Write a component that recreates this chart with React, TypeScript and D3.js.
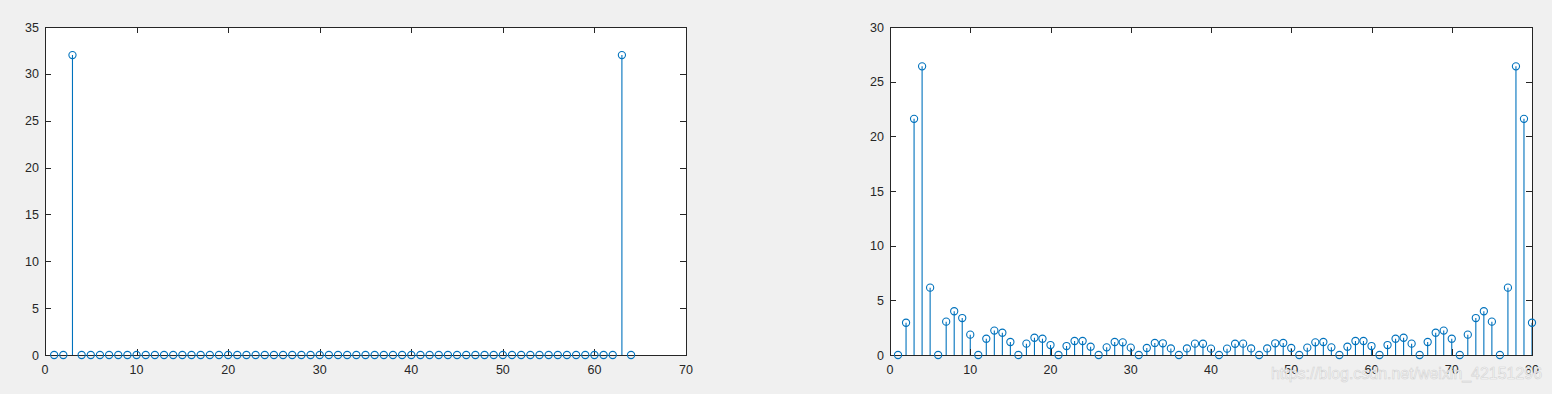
import React from "react";
import * as d3 from "d3";

// Left stem plot: 64 samples, index 1..64
const leftValues: number[] = [
  0, 0, 32, 0, 0, 0, 0, 0, 0, 0, 0, 0, 0, 0, 0, 0,
  0, 0, 0, 0, 0, 0, 0, 0, 0, 0, 0, 0, 0, 0, 0, 0,
  0, 0, 0, 0, 0, 0, 0, 0, 0, 0, 0, 0, 0, 0, 0, 0,
  0, 0, 0, 0, 0, 0, 0, 0, 0, 0, 0, 0, 0, 0, 32, 0,
];
const leftXTicks = [0, 10, 20, 30, 40, 50, 60, 70];
const leftYTicks = [0, 5, 10, 15, 20, 25, 30, 35];

// Right stem plot: 80 samples, index 1..80
const rightValues: number[] = [
  0, 2.95, 21.6, 26.4, 6.16, 0, 3.05, 4.0, 3.38, 1.86,
  0, 1.49, 2.23, 2.04, 1.19, 0, 1.04, 1.58, 1.49, 0.91,
  0, 0.82, 1.28, 1.28, 0.76, 0, 0.7, 1.19, 1.16, 0.67,
  0, 0.64, 1.1, 1.07, 0.6, 0, 0.6, 1.04, 1.03, 0.58,
  0, 0.58, 1.03, 1.04, 0.6, 0, 0.6, 1.07, 1.1, 0.64,
  0, 0.67, 1.16, 1.19, 0.7, 0, 0.76, 1.28, 1.28, 0.82,
  0, 0.91, 1.49, 1.58, 1.04, 0, 1.19, 2.04, 2.23, 1.49,
  0, 1.86, 3.38, 4.0, 3.05, 0, 6.16, 26.4, 21.6, 2.95,
];
const rightXTicks = [0, 10, 20, 30, 40, 50, 60, 70, 80];
const rightYTicks = [0, 5, 10, 15, 20, 25, 30];

const AXIS = "#262626";
const BLUE = "#0072BD";
const FONT = "'Liberation Sans', Arial, Helvetica, sans-serif";

interface StemProps {
  values: number[];
  xDomain: [number, number];
  yDomain: [number, number];
  xTicks: number[];
  yTicks: number[];
  left: number;
  right: number;
  top: number;
  bottom: number;
}

function StemPlot({ values, xDomain, yDomain, xTicks, yTicks, left, right, top, bottom }: StemProps) {
  const x = d3.scaleLinear().domain(xDomain).range([left, right]);
  const y = d3.scaleLinear().domain(yDomain).range([bottom, top]);
  const tl = 6;
  return (
    <g>
      <rect x={left} y={top} width={right - left} height={bottom - top} fill="#ffffff" />
      {values.map((v, i) => {
        const cx = x(i + 1);
        const cy = y(v);
        return (
          <g key={i}>
            {v !== 0 && (
              <line x1={cx} x2={cx} y1={y(0)} y2={cy} stroke={BLUE} strokeWidth={1.1} />
            )}
          </g>
        );
      })}
      {/* box */}
      <rect x={left + 0.5} y={top + 0.5} width={right - left} height={bottom - top} fill="none" stroke={AXIS} strokeWidth={1} />
      {xTicks.map((t) => {
        const px = Math.round(x(t)) + 0.5;
        return (
          <g key={"x" + t}>
            <line x1={px} x2={px} y1={bottom} y2={bottom - tl} stroke={AXIS} strokeWidth={1} />
            <line x1={px} x2={px} y1={top} y2={top + tl} stroke={AXIS} strokeWidth={1} />
            <text x={x(t)} y={bottom + 19} textAnchor="middle" fontSize={12.5} fontFamily={FONT} fill={AXIS}>
              {t}
            </text>
          </g>
        );
      })}
      {yTicks.map((t) => {
        const py = Math.round(y(t)) + 0.5;
        return (
          <g key={"y" + t}>
            <line x1={left} x2={left + tl} y1={py} y2={py} stroke={AXIS} strokeWidth={1} />
            <line x1={right} x2={right - tl} y1={py} y2={py} stroke={AXIS} strokeWidth={1} />
            <text x={left - 6} y={y(t) + 4.5} textAnchor="end" fontSize={12.5} fontFamily={FONT} fill={AXIS}>
              {t}
            </text>
          </g>
        );
      })}
      {values.map((v, i) => (
        <circle key={"c" + i} cx={x(i + 1)} cy={y(v)} r={3.6} fill="none" stroke={BLUE} strokeWidth={1.1} />
      ))}
    </g>
  );
}

export default function App() {
  return (
    <svg
      width={1552}
      height={394}
      style={{ position: "absolute", left: 0, top: 0, display: "block" }}
    >
      <rect x={0} y={0} width={1552} height={394} fill="#f0f0f0" />
      <StemPlot
        values={leftValues}
        xDomain={[0, 70]}
        yDomain={[0, 35]}
        xTicks={leftXTicks}
        yTicks={leftYTicks}
        left={45}
        right={686}
        top={27}
        bottom={355}
      />
      <StemPlot
        values={rightValues}
        xDomain={[0, 80]}
        yDomain={[0, 30]}
        xTicks={rightXTicks}
        yTicks={rightYTicks}
        left={890}
        right={1532}
        top={27}
        bottom={355}
      />
      <text
        x={1271}
        y={379}
        fontSize={16}
        fontFamily={FONT}
        fill="#fbfbfb"
        stroke="#d2d2d2"
        strokeWidth={0.6}
        textLength={271}
        lengthAdjust="spacingAndGlyphs"
      >
        https://blog.csdn.net/weixin_42151296
      </text>
    </svg>
  );
}
